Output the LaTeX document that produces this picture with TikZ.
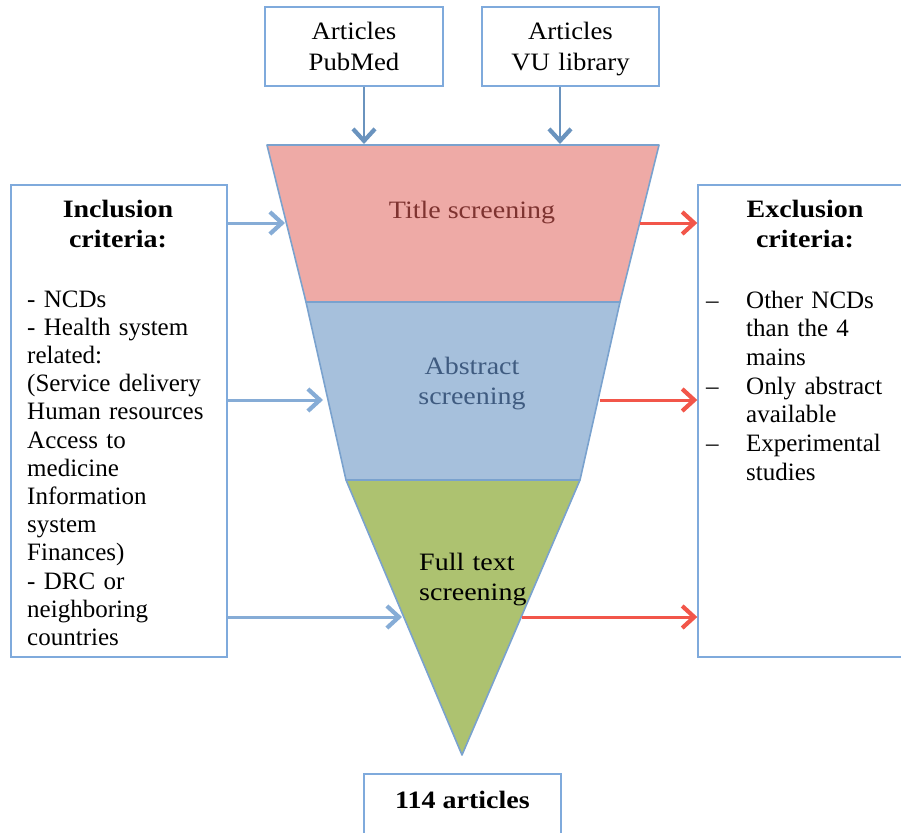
\documentclass[tikz,border=0pt]{standalone}
\usepackage{fontspec}
\setmainfont{Liberation Serif}
\newfontfamily\widefont[FakeStretch=1.12]{Liberation Serif}
\newfontfamily\midfont[FakeStretch=1.07]{Liberation Serif}
\usetikzlibrary{arrows.meta,calc}
\definecolor{boxblue}{HTML}{7FAADC}
\definecolor{funline}{HTML}{7AA2CE}
\definecolor{titlefill}{HTML}{EEAAA6}
\definecolor{absfill}{HTML}{A6C0DC}
\definecolor{fullfill}{HTML}{ADC270}
\definecolor{titletext}{HTML}{7E3330}
\definecolor{abstext}{HTML}{3F5B80}
\definecolor{arblue}{HTML}{86ACD6}
\definecolor{topblue}{HTML}{6A93BE}
\definecolor{arred}{HTML}{F2564A}
\begin{document}
\begin{tikzpicture}[x=1pt,y=-1pt,
  box/.style={draw=boxblue,line width=1.4pt,fill=white,inner sep=0pt},
  txt/.style={font=\fontsize{25}{28.2}\selectfont,inner sep=0pt},
  ftxt/.style={font=\widefont\fontsize{25}{30}\selectfont,inner sep=0pt},
  btxt/.style={font=\widefont\fontsize{25}{30}\selectfont\bfseries,inner sep=0pt},
  funnel/.style={draw=funline,line width=1.6pt,line join=round},
  tipstyle/.style={-{Straight Barb[length=12pt,width=22pt,line width=4.2pt]}},
  blarrow/.style={draw=arblue,line width=3pt,tipstyle},
  tparrow/.style={draw=topblue,line width=2.6pt,tipstyle},
  rdarrow/.style={draw=arred,line width=3pt,tipstyle}]
\path[use as bounding box] (0,0) rectangle (901,832);
\clip (0,0) rectangle (901,832);

% top source boxes
\node[box,minimum width=178pt,minimum height=79pt] (pub) at (354,46.5) {};
\node[box,minimum width=177pt,minimum height=79pt] (vu) at (570.5,46.5) {};
\node[txt,font=\midfont\fontsize{25}{30.7}\selectfont,align=center,text width=170pt,anchor=base] (pubtxt) at (354,40) {Articles\\PubMed};
\node[txt,font=\midfont\fontsize{25}{30.7}\selectfont,align=center,text width=170pt,anchor=base] (vutxt) at (570.5,40) {Articles\\VU library};

% funnel
\coordinate (t1) at (267,145);
\coordinate (t2) at (659,145);
\coordinate (m1) at (306,302);
\coordinate (m2) at (620,302);
\coordinate (b1) at (346,480);
\coordinate (b2) at (580,480);
\coordinate (apex) at (462,755);
\draw[funnel,fill=titlefill] (t1) -- (t2) -- (m2) -- (m1) -- cycle;
\draw[funnel,fill=absfill] (m1) -- (m2) -- (b2) -- (b1) -- cycle;
\draw[funnel,fill=fullfill] (b1) -- (b2) -- (apex) -- cycle;

\node[ftxt,text=titletext,anchor=base] (titletxt) at (472,218) {Title screening};
\node[ftxt,text=abstext,align=center,text width=150pt,anchor=base] (abstxt) at (472,374) {Abstract\\screening};
\node[ftxt,align=left,text width=130pt,anchor=base west] (fulltxt) at (419,570) {Full text\\screening};

% side boxes
\node[box,minimum width=216pt,minimum height=472pt] (incl) at (119,421) {};
\node[box,minimum width=207pt,minimum height=472pt] (excl) at (801.5,421) {};
\node[btxt,align=center,text width=200pt,anchor=base] (incltitle) at (118,217) {Inclusion\\criteria:};
\node[txt,align=left,text width=198pt,anchor=base west] (incllist) at (27,307)
  {- NCDs\\- Health system\\related:\\(Service delivery\\Human resources\\Access to\\medicine\\Information\\system\\Finances)\\- DRC or\\neighboring\\countries};
\node[btxt,align=center,text width=190pt,anchor=base] (excltitle) at (805,217) {Exclusion\\criteria:};
\node[txt,font=\fontsize{25}{28.67}\selectfont,align=left,text width=195pt,anchor=base west] (excllist) at (706,308)
  {\makebox[40pt][l]{–}Other NCDs\\\hspace*{40pt}than the 4\\\hspace*{40pt}mains\\\makebox[40pt][l]{–}Only abstract\\\hspace*{40pt}available\\\makebox[40pt][l]{–}Experimental\\\hspace*{40pt}studies};

% result box
\node[box,minimum width=197pt,minimum height=66pt] (res) at (462.5,807) {};
\node[btxt,anchor=base] (restxt) at (462.5,808) {114 articles};

% arrow end points on the funnel
\coordinate (topA) at (364,144);
\coordinate (topB) at (560,144);
\coordinate (inA) at (285,223);
\coordinate (inB) at (323,400);
\coordinate (inC) at (402,617);
\coordinate (exA) at (640,223);
\coordinate (exB) at (600,400);
\coordinate (exC) at (522,617);

\draw[tparrow] (pub.south -| topA) -- (topA);
\draw[tparrow] (vu.south -| topB) -- (topB);
\draw[blarrow] (incl.east |- inA) -- (inA);
\draw[blarrow] (incl.east |- inB) -- (inB);
\draw[blarrow] (incl.east |- inC) -- (inC);
\draw[rdarrow] (exA) -- (excl.west |- exA);
\draw[rdarrow] (exB) -- (excl.west |- exB);
\draw[rdarrow] (exC) -- (excl.west |- exC);
\end{tikzpicture}
\end{document}
